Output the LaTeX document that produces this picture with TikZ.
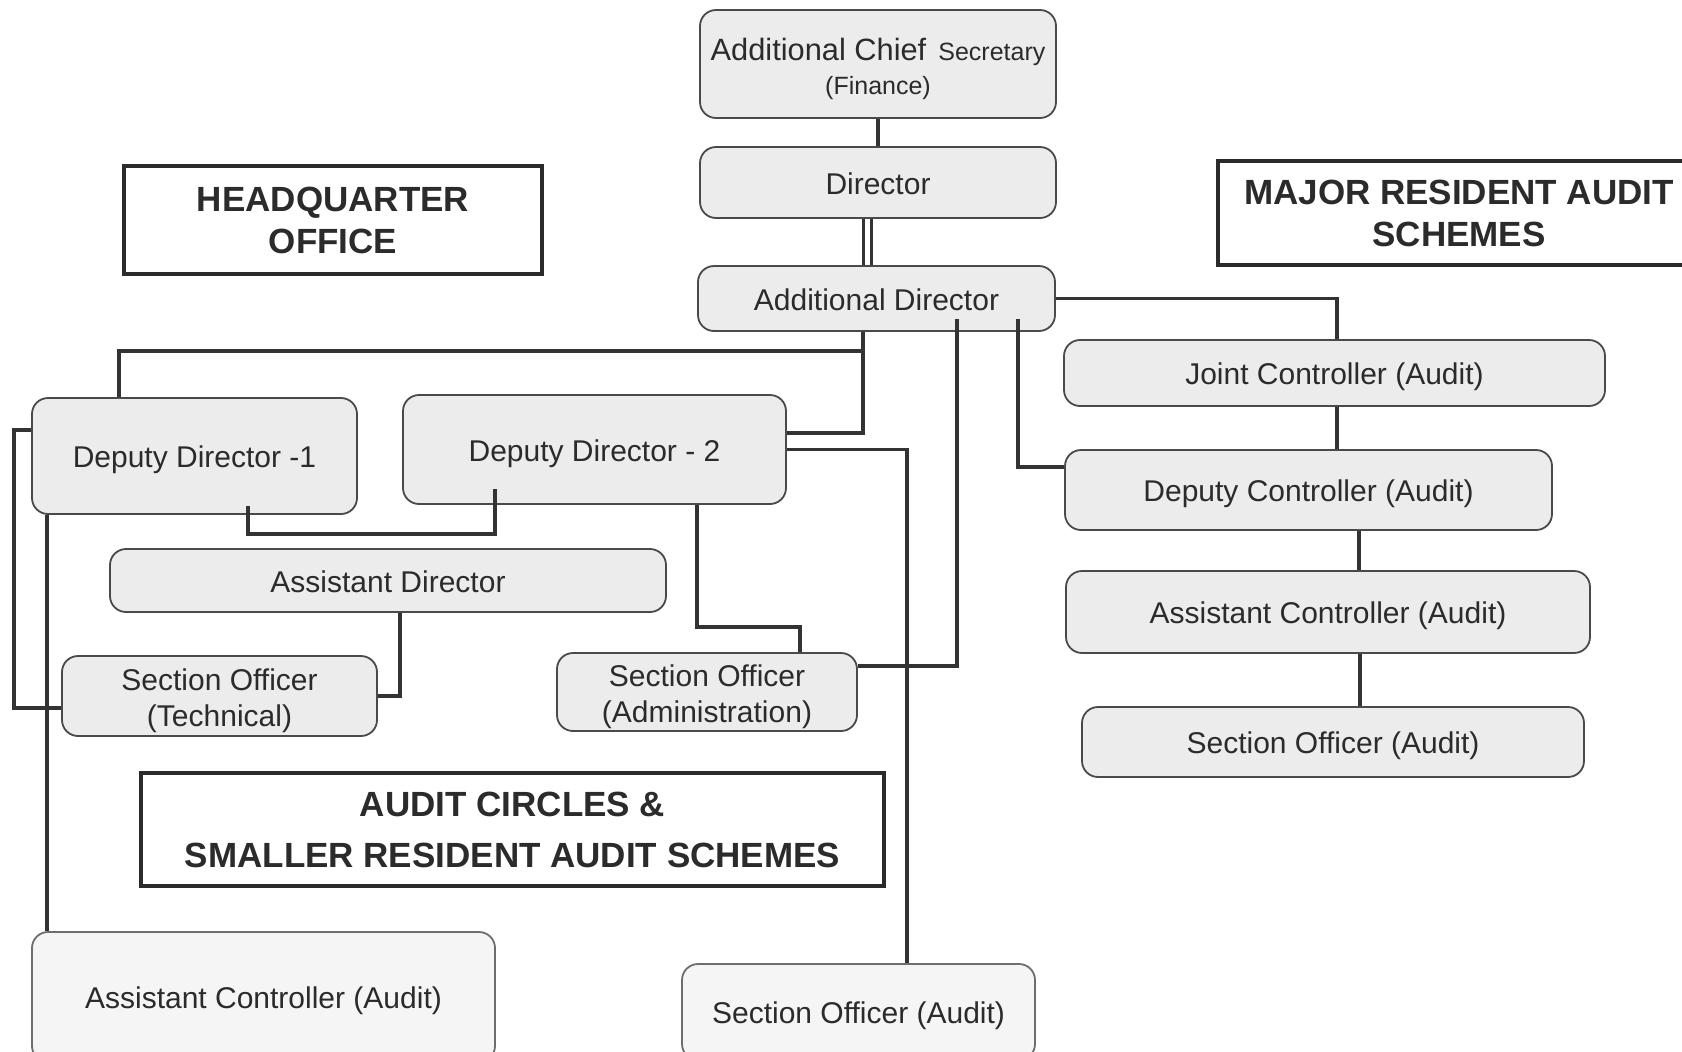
\documentclass[tikz,border=0pt]{standalone}
\usepackage{fontspec}
\setmainfont{Liberation Sans}
\usetikzlibrary{calc}
\definecolor{ink}{HTML}{2B2B2B}
\definecolor{wire}{HTML}{333333}
\definecolor{boxfill}{HTML}{ECECEC}
\definecolor{boxline}{HTML}{4A4A4A}
\definecolor{palefill}{HTML}{F5F5F5}
\begin{document}
\begin{tikzpicture}[x=0.5pt,y=-0.5pt,
  office/.style={draw=boxline, line width=0.9pt, fill=boxfill, rounded corners=8pt,
    inner sep=0pt, align=center, text=ink, font=\fontsize{15}{18}\selectfont},
  oneline/.style={office, text height=11.7pt, text depth=0pt},
  paleoffice/.style={oneline, fill=palefill, draw=boxline!80},
  header/.style={draw=ink, line width=2pt, fill=white, inner sep=0pt, align=center,
    text=ink, font=\fontsize{17.5}{21}\selectfont\bfseries},
  link/.style={draw=wire, line width=1.7pt},
]
\useasboundingbox (0,0) rectangle (1682,1051);
\clip (0,0) rectangle (1682,1051);
\fill[white] (0,0) rectangle (1682,1051);

% headers
\node[header, minimum width=209pt, minimum height=54pt] (hq) at (333,220) {HEADQUARTER\\OFFICE};
\node[header, minimum width=241pt, minimum height=52pt] (mras) at (1459,213) {MAJOR RESIDENT AUDIT\\SCHEMES};
\node[header, minimum width=371.5pt, minimum height=56.5pt, font=\fontsize{17.5}{25.5}\selectfont\bfseries] (acc) at (512.5,829.5) {AUDIT CIRCLES \&\\SMALLER RESIDENT AUDIT SCHEMES};

% top chain
\node[office, minimum width=178pt, minimum height=54pt, font=\fontsize{15.4}{17}\selectfont] (acs) at (878,64)
  {\rule{0pt}{16.5pt}Additional Chief\hspace{6pt}{\fontsize{12.5}{17}\selectfont Secretary}\\{\fontsize{12.5}{17}\selectfont (Finance)}};
\node[oneline, minimum width=178pt, minimum height=35.5pt] (dir) at (878,182.5) {Director};
\node[oneline, minimum width=178.5pt, minimum height=32.5pt] (ad) at (876.5,298.5) {Additional Director};

% right column
\node[oneline, minimum width=270.5pt, minimum height=33pt] (jc) at (1334.5,373) {Joint Controller (Audit)};
\node[oneline, minimum width=243.5pt, minimum height=40pt] (dc) at (1308.5,490) {Deputy Controller (Audit)};
\node[oneline, minimum width=262pt, minimum height=41pt] (acr) at (1328,612) {Assistant Controller (Audit)};
\node[oneline, minimum width=251pt, minimum height=35pt] (sor) at (1333,742) {Section Officer (Audit)};

% headquarter column
\node[oneline, minimum width=162.5pt, minimum height=58pt] (dd1) at (194.5,456) {Deputy Director -1};
\node[oneline, minimum width=191.5pt, minimum height=54.5pt] (dd2) at (594.5,449.5) {Deputy Director - 2};
\node[oneline, minimum width=278pt, minimum height=31.5pt] (asd) at (388,580.5) {Assistant Director};
\node[office, minimum width=157.5pt, minimum height=40pt] (sot) at (219.5,696) {\rule{0pt}{15.3pt}Section Officer\\(Technical)};
\node[office, minimum width=150pt, minimum height=39pt] (soa) at (707,692) {\rule{0pt}{15.3pt}Section Officer\\(Administration)};

% bottom boxes
\node[paleoffice, minimum width=231.5pt, minimum height=65pt] (acl) at (263.5,997) {Assistant Controller (Audit)};
\node[paleoffice, minimum width=176.5pt, minimum height=48pt] (sob) at (858.5,1012) {Section Officer (Audit)};

% connectors
\draw[link] (acs.south) -- (dir.north);
\draw[draw=wire, line width=1.5pt, double=white, double distance=2.5pt]
  ($(dir.south)+(-11,0)$) -- ($(ad.north)+(-9.5,0)$);
\draw[link] ($(ad.south)+(-13.5,0)$) -- ++(0,19) -| ($(dd1.north)+(-75.5,0)$);
\draw[link] ($(ad.south)+(-13.5,0)$) |- ($(dd2.east)+(0,-16.5)$);
\draw[link] (dd2.east) -| ($(sob.north)+(48.5,0)$);
\draw[link] ($(ad.south)+(80.5,-13)$) |- ($(soa.east)+(0,-26)$);
\draw[link] ($(ad.south)+(141.5,-13)$) |- ($(dc.west)+(0,-23)$);
\draw[link] (ad.east) -| ($(jc.north)+(2.5,0)$);
\draw[link] ($(jc.south)+(2.5,0)$) -- ($(dc.north)+(28.5,0)$);
\draw[link] ($(dc.south)+(50.5,0)$) -- ($(acr.north)+(31,0)$);
\draw[link] ($(acr.south)+(32,0)$) -- ($(sor.north)+(27,0)$);
\draw[link] ($(dd1.west)+(0,-26)$) -- ++(-17,0) |- ($(sot.west)+(0,12)$);
\draw[link] ($(dd1.south)+(-147.5,0)$) -- ($(acl.north)+(-216.5,0)$);
\draw[link] ($(dd1.south)+(53.5,-9)$) |- ($(dd2.south)+(-99.5,29)$) -- ($(dd2.south)+(-99.5,-16)$);
\draw[link] ($(asd.south)+(12,0)$) |- (sot.east);
\draw[link] ($(dd2.south)+(102.5,0)$) |- ($(soa.north)+(93,-25)$) -- ($(soa.north)+(93,0)$);
\end{tikzpicture}
\end{document}
